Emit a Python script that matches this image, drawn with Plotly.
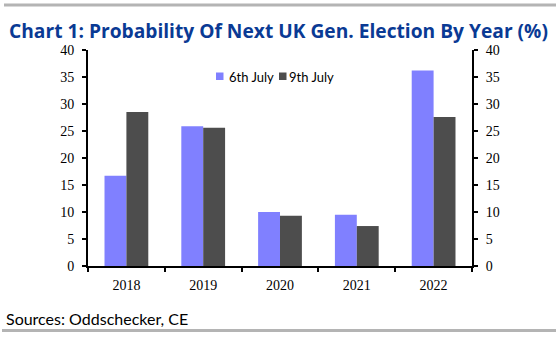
import plotly.graph_objects as go

years = ["2018", "2019", "2020", "2021", "2022"]
july_6 = [16.7, 25.9, 10.0, 9.5, 36.2]
july_9 = [28.5, 25.6, 9.3, 7.4, 27.6]
series_names = ["6th July", "9th July"]
series_colors = ["#8080FF", "#4D4D4D"]
y_ticks = [0, 5, 10, 15, 20, 25, 30, 35, 40]

W, H = 560, 337
L, R, T, B = 88, 472, 50, 266  # plot area edges in pixels


def px_x(x):
    return (x - L) / (R - L)


def px_y(y):
    return (B - y) / (B - T)


fig = go.Figure()
for name, vals, col in zip(series_names, [july_6, july_9], series_colors):
    fig.add_trace(go.Bar(x=years, y=vals, name=name, marker_color=col,
                         marker_line_width=0, showlegend=False))

# empty trace so the right-hand axis is drawn
fig.add_trace(go.Scatter(x=years, y=[None] * len(years), yaxis="y2",
                         showlegend=False, hoverinfo="skip"))

tick_font = dict(family="Liberation Serif", size=14, color="black")
axis_common = dict(range=[0, 40], tickvals=y_ticks, showgrid=False,
                   zeroline=False, showline=True, linecolor="black",
                   linewidth=2, ticks="outside", ticklen=4, tickwidth=2,
                   tickcolor="black", tickfont=tick_font)

fig.update_layout(
    width=W, height=H, autosize=False,
    margin=dict(l=L, r=W - R, t=T, b=H - B, pad=0),
    paper_bgcolor="white", plot_bgcolor="white",
    barmode="group", bargap=0.43, bargroupgap=0,
    xaxis=dict(showline=True, linecolor="black", linewidth=2,
               ticks="outside", tickson="boundaries", ticklen=4,
               tickwidth=2, tickcolor="black", tickfont=tick_font,
               ticklabelstandoff=5, showgrid=False, zeroline=False),
    yaxis=dict(side="left", ticklabelstandoff=5, **axis_common),
    yaxis2=dict(side="right", overlaying="y", ticklabelstandoff=5,
                **axis_common),
    title=dict(text="<b>Chart 1: Probability Of Next UK Gen. Election By Year (%)</b>",
               x=9 / W, xanchor="left", xref="container",
               y=1 - 31 / H, yanchor="middle", yref="container",
               font=dict(family="Open Sans", size=19.2, color="#0A3A94")),
    showlegend=False,
)

shapes = []
annotations = []

# legend
leg_items = [(216, 227), (279, 287)]
for (sx, tx), name, col in zip(leg_items, series_names, series_colors):
    shapes.append(dict(type="rect", xref="paper", yref="paper",
                       x0=px_x(sx), x1=px_x(sx + 7.5), y0=px_y(80), y1=px_y(72.5),
                       fillcolor=col, line_width=0))
    annotations.append(dict(text=name, xref="paper", yref="paper",
                            x=px_x(tx), y=px_y(77), xanchor="left",
                            yanchor="middle", showarrow=False,
                            font=dict(family="Lato", size=13, color="black")))

# separator rules
shapes.append(dict(type="line", xref="paper", yref="paper",
                   x0=px_x(4), x1=px_x(556), y0=px_y(5), y1=px_y(5),
                   line=dict(color="#B4B4B4", width=3)))
shapes.append(dict(type="line", xref="paper", yref="paper",
                   x0=px_x(2), x1=px_x(556), y0=px_y(330.5), y1=px_y(330.5),
                   line=dict(color="#B4B4B4", width=3)))

annotations.append(dict(text="Sources: Oddschecker, CE", xref="paper",
                        yref="paper", x=px_x(4), y=px_y(318),
                        xanchor="left", yanchor="middle", showarrow=False,
                        font=dict(family="Lato", size=16, color="black")))

fig.update_layout(shapes=shapes, annotations=annotations)
fig.write_html("out.html")
